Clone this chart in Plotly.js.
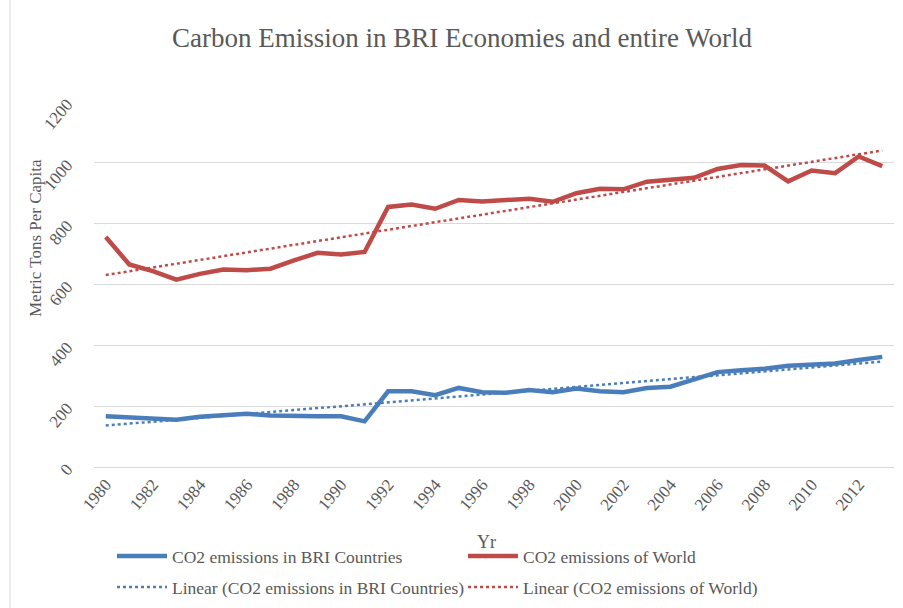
<!DOCTYPE html>
<html>
<head>
<meta charset="utf-8">
<script src="https://cdn.plot.ly/plotly-3.0.1.min.js"></script>
<style>html,body{margin:0;padding:0;background:#fff;}#chart{width:903px;height:608px;}</style>
</head>
<body>
<div id="chart"></div>
<script>
const years = [1980,1981,1982,1983,1984,1985,1986,1987,1988,1989,1990,1991,1992,1993,1994,1995,1996,1997,1998,1999,2000,2001,2002,2003,2004,2005,2006,2007,2008,2009,2010,2011,2012,2013];
const briValues = [167,164,160,155,165,171,175,169,167,167,167,150,249,249,236,260,246,244,253,246,258,249,246,260,264,287,312,318,323,333,337,340,352,362];
const worldValues = [756,666,644,616,635,649,647,652,679,704,699,707,855,863,849,878,873,878,882,872,900,915,913,938,944,951,980,993,991,939,975,966,1021,989];
const tickYears = [1980,1982,1984,1986,1988,1990,1992,1994,1996,1998,2000,2002,2004,2006,2008,2010,2012];
const yTicks = [0,200,400,600,800,1000,1200];
const names = ["CO2 emissions in BRI Countries","CO2 emissions of World","Linear (CO2 emissions in BRI Countries)","Linear (CO2 emissions of World)"];

function linearFit(xs, ys){
  const n = xs.length;
  let sx=0, sy=0, sxx=0, sxy=0;
  for(let i=0;i<n;i++){sx+=xs[i];sy+=ys[i];sxx+=xs[i]*xs[i];sxy+=xs[i]*ys[i];}
  const b=(n*sxy-sx*sy)/(n*sxx-sx*sx);
  const a=(sy-b*sx)/n;
  return xs.map(x=>a+b*x);
}
const idx = years.map((_,i)=>i+1);
const briTrend = linearFit(idx, briValues);
const worldTrend = linearFit(idx, worldValues);

const BLUE = '#4a7ebb', RED = '#be4b48';
const serif = 'Liberation Serif, Times New Roman, serif';
const GREY = '#595959';

const traces = [
  {x: years, y: briValues, name: names[0], mode:'lines', line:{color:BLUE, width:4.5}, legend:'legend'},
  {x: years, y: worldValues, name: names[1], mode:'lines', line:{color:RED, width:4.5}, legend:'legend'},
  {x: years, y: briTrend, name: names[2], mode:'lines', line:{color:BLUE, width:2.5, dash:'dot'}, legend:'legend2'},
  {x: years, y: worldTrend, name: names[3], mode:'lines', line:{color:RED, width:2.5, dash:'dot'}, legend:'legend2'}
];

const legendCommon = {orientation:'h', x:0.0225, xanchor:'left', yref:'container', yanchor:'middle',
  entrywidth:286, entrywidthmode:'pixels', itemwidth:50,
  font:{family:serif, size:17.5, color:GREY}, bgcolor:'rgba(0,0,0,0)'};

const layout = {
  width: 903, height: 608,
  margin: {l:94, r:9, t:102, b:141},
  paper_bgcolor:'#fff', plot_bgcolor:'#fff',
  font: {family: serif, color:GREY, size:16},
  title: {text:'Carbon Emission in BRI Economies and entire World', font:{family:serif, size:27, color:GREY}, x:462/903, xanchor:'center', y:1-38/608, yanchor:'middle'},
  xaxis: {
    range:[1979.5, 2013.5], tickmode:'array', tickvals:tickYears, ticktext:tickYears.map(String),
    tickangle:-50, showgrid:false, showline:true, linecolor:'#d9d9d9', linewidth:1, ticks:'',
    tickfont:{family:serif, size:17, color:GREY}, zeroline:false
  },
  yaxis: {
    range:[0,1200], tickmode:'array', tickvals:yTicks, ticktext:yTicks.map(String),
    tickangle:-50, showgrid:true, gridcolor:'#d9d9d9', gridwidth:1, zeroline:false, showline:false, ticks:'',
    tickfont:{family:serif, size:17, color:GREY}, ticklabelstandoff:26
  },
  showlegend:true,
  legend: Object.assign({}, legendCommon, {y:1-556/608}),
  legend2: Object.assign({}, legendCommon, {y:1-587/608}),
  annotations:[
    {text:'Metric Tons Per Capita', xref:'paper', yref:'paper', x:-(94-35)/800, y:(467-238)/365, textangle:-90,
     showarrow:false, xanchor:'center', yanchor:'middle', font:{family:serif, size:17, color:GREY}},
    {text:'Yr', xref:'paper', yref:'paper', x:(486-94)/800, y:(467-542)/365,
     showarrow:false, xanchor:'center', yanchor:'middle', font:{family:serif, size:18, color:GREY}}
  ],
  shapes:[
    {type:'line', xref:'paper', yref:'paper', x0:-(94-10)/800, x1:-(94-10)/800, y0:-141/365, y1:(102+608)/365, line:{color:'#d9d9d9', width:1}}
  ]
};

Plotly.newPlot('chart', traces, layout, {displayModeBar:false, staticPlot:true});
</script>
</body>
</html>
